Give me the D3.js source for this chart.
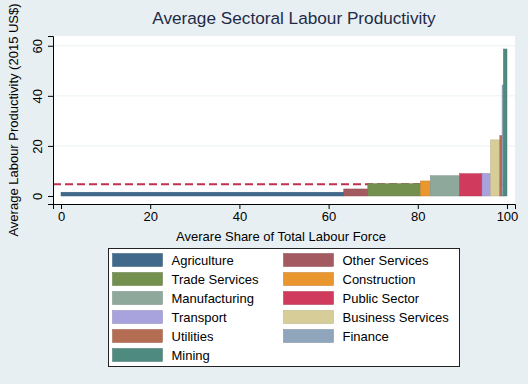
<!DOCTYPE html>
<html>
<head>
<meta charset="utf-8">
<script src="https://cdn.jsdelivr.net/npm/d3@7"></script>
<style>
  body { margin: 0; background: #e8eff2; }
  text { font-family: "Liberation Sans", Arial, sans-serif; }
</style>
</head>
<body>
<div id="chart-area"></div>
<script>
// sectors sorted by productivity (as plotted)
var sectors = ["Agriculture", "Other Services", "Trade Services", "Construction", "Manufacturing",
    "Public Sector", "Transport", "Business Services", "Utilities", "Finance", "Mining"];
var shares = [63.4, 5.4, 11.8, 2.2, 6.6, 5.0, 1.9, 2.1, 0.5, 0.3, 0.8];
var productivity = [1.5, 2.8, 4.9, 6.0, 8.1, 8.9, 9.0, 22.4, 24.1, 44.3, 58.7];
var colors = ["#41698c", "#a35a60", "#73904f", "#e9962e", "#8fa89c",
    "#d03a5c", "#a8a3dd", "#d7cd98", "#b46d52", "#8fa5bb", "#4f8a80"];
var average = 4.7;
var xTicks = [0, 20, 40, 60, 80, 100];
var yTicks = [0, 20, 40, 60];
// legend order (two columns, read row-wise)
var legendOrder = ["Agriculture", "Other Services", "Trade Services", "Construction", "Manufacturing",
    "Public Sector", "Transport", "Business Services", "Utilities", "Finance", "Mining"];

var W = 528, H = 384;
var margin = {left: 53, right: 13, top: 36, bottom: 180};
var width = W - margin.left - margin.right;
var height = H - margin.top - margin.bottom;

var svg = d3.select("#chart-area")
  .append("svg")
    .attr("width", W)
    .attr("height", H);

svg.append("rect")
    .attr("width", W).attr("height", H)
    .attr("fill", "#e8eff2");

var g = svg.append("g")
    .attr("transform", "translate(" + margin.left + ", " + margin.top + ")");

g.append("rect")
    .attr("width", width).attr("height", height)
    .attr("fill", "white");

var x = d3.scaleLinear().domain([-1.8, 101.8]).range([0, width]);
var y = d3.scaleLinear().domain([-3.2, 63.9]).range([height, 0]);

// gridlines
g.selectAll(".grid").data(yTicks.slice(1)).enter()
  .append("line")
    .attr("x1", 0).attr("x2", width)
    .attr("y1", (d) => y(d)).attr("y2", (d) => y(d))
    .attr("stroke", "#eaf2f3").attr("stroke-width", 1);

// average line behind bars
g.append("line")
    .attr("x1", 0).attr("x2", x(100))
    .attr("y1", y(average)).attr("y2", y(average))
    .attr("stroke", "#c0304f").attr("stroke-width", 2)
    .attr("stroke-dasharray", "8,4");

var data = sectors.map((s, i) => ({name: s, share: shares[i], value: productivity[i], color: colors[i]}));
var cum = 0;
data.forEach((d) => { d.x0 = cum; cum += d.share; d.x1 = cum; });

g.selectAll(".bar").data(data).enter()
  .append("rect")
    .attr("x", (d) => x(d.x0))
    .attr("y", (d) => y(d.value))
    .attr("width", (d) => x(d.x1) - x(d.x0))
    .attr("height", (d) => y(0) - y(d.value))
    .attr("fill", (d) => d.color)
    .attr("stroke", (d) => d3.color(d.color).darker(0.4))
    .attr("stroke-width", 0.5);

// axes
var xAxis = g.append("g")
    .attr("transform", "translate(0, " + height + ")")
    .call(d3.axisBottom(x).tickValues(xTicks).tickSize(5).tickPadding(3));
xAxis.selectAll("text").attr("font-size", "13px").attr("fill", "#000")
    .style("font-family", "'Liberation Sans', Arial, sans-serif");

var yAxis = g.append("g")
    .call(d3.axisLeft(y).tickValues(yTicks).tickSize(5).tickPadding(3));
yAxis.selectAll("text")
    .attr("font-size", "13px").attr("fill", "#000")
    .style("font-family", "'Liberation Sans', Arial, sans-serif")
    .attr("text-anchor", "middle")
    .attr("x", 0).attr("dy", 0)
    .attr("transform", "translate(-16,0) rotate(-90)")
    .attr("y", 0)
    .attr("dominant-baseline", "central");
g.selectAll(".domain").attr("stroke", "#000");
g.selectAll(".tick line").attr("stroke", "#000");

svg.append("text")
    .attr("x", 294).attr("y", 24)
    .attr("text-anchor", "middle")
    .attr("font-size", "17.2px")
    .attr("fill", "#1e2b48")
    .text("Average Sectoral Labour Productivity");

svg.append("text")
    .attr("x", margin.left + width / 2 - 3).attr("y", 241)
    .attr("text-anchor", "middle")
    .attr("font-size", "13px")
    .text("Averare Share of Total Labour Force");

svg.append("text")
    .attr("transform", "translate(18," + (margin.top + height / 2) + ") rotate(-90)")
    .attr("text-anchor", "middle")
    .attr("font-size", "13px")
    .text("Average Labour Productivity (2015 US$)");

// legend
var legend = svg.append("g").attr("transform", "translate(108.5, 248.5)");
legend.append("rect")
    .attr("width", 351).attr("height", 118)
    .attr("fill", "white").attr("stroke", "#222").attr("stroke-width", 1);

var colorOf = {};
data.forEach((d) => { colorOf[d.name] = d.color; });

var items = legend.selectAll(".item").data(legendOrder).enter()
  .append("g")
    .attr("transform", (d, i) => "translate(" + (4 + (i % 2) * 171) + "," + (5 + Math.floor(i / 2) * 19) + ")");
items.append("rect")
    .attr("width", 50).attr("height", 13)
    .attr("fill", (d) => colorOf[d])
    .attr("stroke", (d) => d3.color(colorOf[d]).darker(0.5))
    .attr("stroke-width", 0.5);
items.append("text")
    .attr("x", 59).attr("y", 6.5)
    .attr("dominant-baseline", "central")
    .attr("font-size", "13px")
    .text((d) => d);
</script>
</body>
</html>
